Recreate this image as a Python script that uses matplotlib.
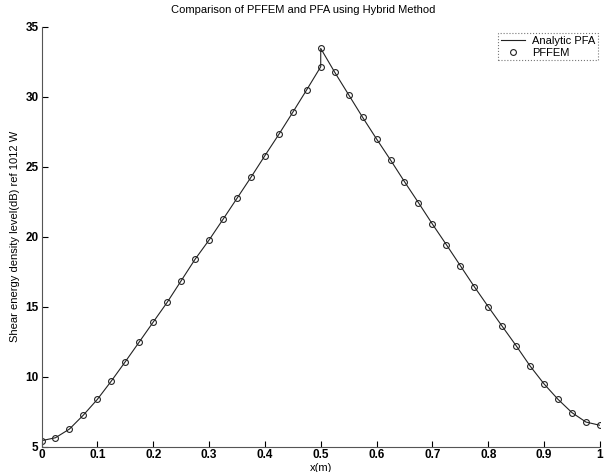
import matplotlib.pyplot as plt
import numpy as np

plt.rcParams['font.family'] = ['Liberation Sans', 'DejaVu Sans']

# x positions (m) -- the point at 0.5 appears twice (left and right branch)
x_left = [0, 0.025, 0.05, 0.075, 0.1, 0.125, 0.15, 0.175, 0.2, 0.225, 0.25,
          0.275, 0.3, 0.325, 0.35, 0.375, 0.4, 0.425, 0.45, 0.475, 0.5]
y_left = [5.43, 5.64, 6.26, 7.26, 8.38, 9.69, 11.07, 12.48, 13.9, 15.31, 16.85,
          18.39, 19.76, 21.24, 22.74, 24.24, 25.79, 27.31, 28.89, 30.5, 32.14]
x_right = [0.5, 0.525, 0.55, 0.575, 0.6, 0.625, 0.65, 0.675, 0.7, 0.725, 0.75,
           0.775, 0.8, 0.825, 0.85, 0.875, 0.9, 0.925, 0.95, 0.975, 1.0]
y_right = [33.45, 31.75, 30.14, 28.53, 26.98, 25.48, 23.93, 22.43, 20.9, 19.43, 17.93,
           16.43, 15.0, 13.6, 12.21, 10.76, 9.48, 8.38, 7.43, 6.76, 6.53]

x = np.array(x_left + x_right)
y = np.array(y_left + y_right)

fig = plt.figure(figsize=(6.06, 4.72), dpi=100)
ax = fig.add_axes([0.0685, 0.0536, 0.9215, 0.8898])

ax.plot(x, y, '-', color='#222222', lw=0.8, label='Analytic PFA')
ax.plot(x, y, 'o', mfc='none', mec='#222222', ms=4.2, mew=0.8, label='PFFEM')

ax.set_xlim(0, 1)
ax.set_ylim(5, 35)
ax.set_xticks(np.arange(0, 1.01, 0.1))
ax.set_xticklabels(['0', '0.1', '0.2', '0.3', '0.4', '0.5', '0.6', '0.7', '0.8', '0.9', '1'])
ax.set_yticks(range(5, 36, 5))
ax.tick_params(direction='in', length=4, width=0.8, labelsize=8.5, pad=2)
for lab in ax.get_xticklabels() + ax.get_yticklabels():
    lab.set_fontweight('bold')

ax.spines['top'].set_visible(False)
ax.spines['right'].set_visible(False)
ax.spines['left'].set_color('#555555')
ax.spines['bottom'].set_color('#555555')

fig.text(0.5, 0.978, 'Comparison of PFFEM and PFA using Hybrid Method',
         fontsize=8, ha='center', va='center')
ax.set_xlabel('x(m)', fontsize=8, labelpad=1)
ax.set_ylabel('Shear energy density level(dB) ref 1012 W', fontsize=8, labelpad=4)

leg = ax.legend(loc='upper right', bbox_to_anchor=(1.0, 0.99), fontsize=8, frameon=True,
                fancybox=False, borderpad=0.25, handlelength=2.2, labelspacing=0.15,
                handletextpad=0.6, borderaxespad=0.2)
leg.get_frame().set_edgecolor('#555555')
leg.get_frame().set_linestyle(':')
leg.get_frame().set_linewidth(0.8)

fig.savefig('out.png', dpi=100)
